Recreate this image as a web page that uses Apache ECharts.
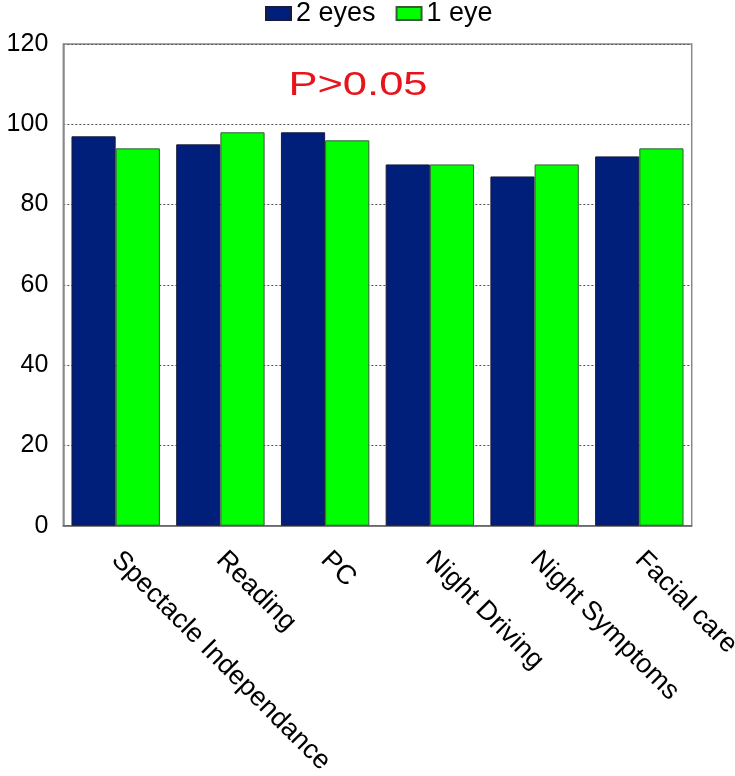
<!DOCTYPE html>
<html>
<head>
<meta charset="utf-8">
<script src="https://cdn.jsdelivr.net/npm/echarts@6/dist/echarts.min.js"></script>
<style>html,body{margin:0;padding:0;background:#fff}#c{width:735px;height:776px}</style>
</head>
<body>
<div id="c"></div>
<script>
var categories = ['Spectacle Independance', 'Reading', 'PC', 'Night Driving', 'Night Symptoms', 'Facial care'];
var twoEyes = [97, 95, 98, 90, 87, 92];
var oneEye = [94, 98, 96, 90, 90, 94];
var seriesNames = ['2 eyes', '1 eye'];
var annotation = 'P>0.05';

var chart = echarts.init(document.getElementById('c'), null, {renderer: 'canvas'});
var font = 'Liberation Sans, Arial, sans-serif';
chart.setOption({
  animation: false,
  backgroundColor: '#fff',
  legend: {
    data: seriesNames,
    top: 0,
    left: 265,
    padding: 0,
    icon: 'rect',
    itemWidth: 25,
    itemHeight: 13,
    itemGap: 20,
    textStyle: {fontFamily: font, fontSize: 27, color: '#000'}
  },
  grid: {
    left: 63.3, right: 43.3, top: 44, bottom: 250.3,
    containLabel: false,
    outerBoundsMode: 'none',
    show: true, borderColor: '#8a8a8a', borderWidth: 1.5, backgroundColor: 'transparent'
  },
  xAxis: {
    type: 'category',
    data: categories,
    axisLine: {show: true, lineStyle: {color: '#666', width: 1.5}},
    axisTick: {show: false},
    axisLabel: {rotate: -45, margin: 30, fontFamily: font, fontSize: 27, color: '#000', interval: 0}
  },
  yAxis: {
    type: 'value',
    min: 0, max: 120, interval: 20,
    axisLine: {show: true, lineStyle: {color: '#8a8a8a', width: 1.5}},
    axisTick: {show: false},
    axisLabel: {margin: 15, fontFamily: font, fontSize: 25, color: '#000'},
    splitLine: {show: true, lineStyle: {type: [2, 2], color: '#555', width: 1}}
  },
  series: [
    {name: seriesNames[0], type: 'bar', data: twoEyes, barGap: '0%', barCategoryGap: '15.6%',
     itemStyle: {color: '#001f7a', borderColor: '#1a1a3a', borderWidth: 1}},
    {name: seriesNames[1], type: 'bar', data: oneEye, barGap: '0%', barCategoryGap: '15.6%',
     itemStyle: {color: '#00ff00', borderColor: '#3a5a3a', borderWidth: 1}}
  ],
  graphic: [{
    type: 'text',
    x: 358, y: 86,
    scaleX: 1.28,
    style: {text: annotation, fill: '#e8141c', font: '34px ' + font, textAlign: 'center', textVerticalAlign: 'middle'}
  }]
});
</script>
</body>
</html>
